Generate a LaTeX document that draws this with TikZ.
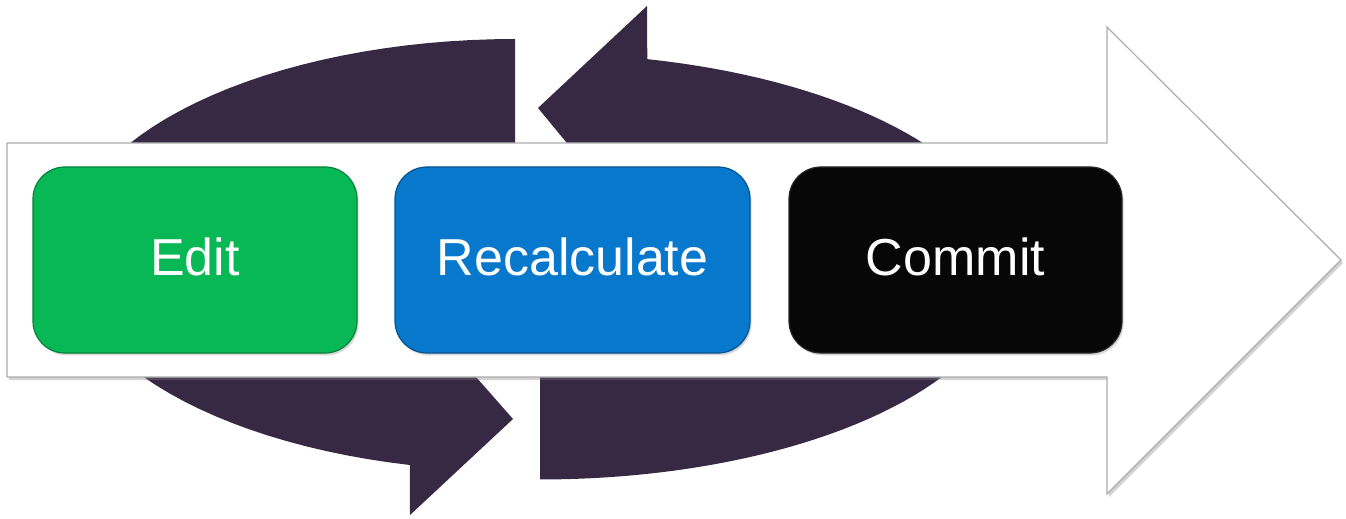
\documentclass[tikz,border=0pt]{standalone}
\usepackage{fontspec}
\setmainfont{Liberation Sans}
\usetikzlibrary{shadows}
\definecolor{loopviolet}{HTML}{372844}
\definecolor{editgreen}{HTML}{07B854}
\definecolor{recalcblue}{HTML}{0778CC}
\definecolor{commitblack}{HTML}{070707}
\tikzstyle{loop arrow}=[fill=loopviolet]
\tikzstyle{flow arrow}=[fill=white, draw=gray!65, semithick, drop shadow={opacity=0.35, shadow xshift=1pt, shadow yshift=-1.5pt}]
\tikzstyle{stage}=[rounded corners=16pt, minimum height=93pt, text depth=3pt, semithick, text=white, font=\fontsize{26}{30}\selectfont, drop shadow={opacity=0.3, shadow xshift=0.8pt, shadow yshift=-1.2pt}]

\begin{document}
\begin{tikzpicture}[x=0.5pt, y=-0.5pt]
  \useasboundingbox (0,0) rectangle (1346,519);
  % the loop behind
  \fill[loop arrow] plot[domain=270:103.5, samples=60] ({515+450*cos(\x)}, {255+216*sin(\x)})
    -- (410,515) -- (513,419) -- (410,302) -- (410,350)
    -- plot[domain=108.5:270, samples=60] ({515+330*cos(\x)}, {255+100*sin(\x)}) -- cycle;
  \fill[loop arrow] plot[domain=-76.8:90, samples=80] ({540+470*cos(\x)}, {266.5+213*sin(\x)})
    -- (540,366.5)
    -- plot[domain=90:-71.6, samples=60] ({540+340*cos(\x)}, {266.5+100*sin(\x)})
    -- (647,240) -- (538,108) -- (647,6) -- cycle;
  % the big arrow
  \draw[flow arrow] (7,143) -- (1107,143) -- (1107,27) -- (1341,260)
    -- (1107,494) -- (1107,377) -- (7,377) -- cycle;
  % the stages
  \node[stage, fill=editgreen, draw=editgreen!70!black, minimum width=162pt] (edit) at (195,260) {Edit};
  \node[stage, fill=recalcblue, draw=recalcblue!70!black, minimum width=177.5pt] (recalc) at (572.5,260) {Recalculate};
  \node[stage, fill=commitblack, draw=gray!30!black, minimum width=166.5pt] (commit) at (955.5,260) {Commit};
\end{tikzpicture}
\end{document}
